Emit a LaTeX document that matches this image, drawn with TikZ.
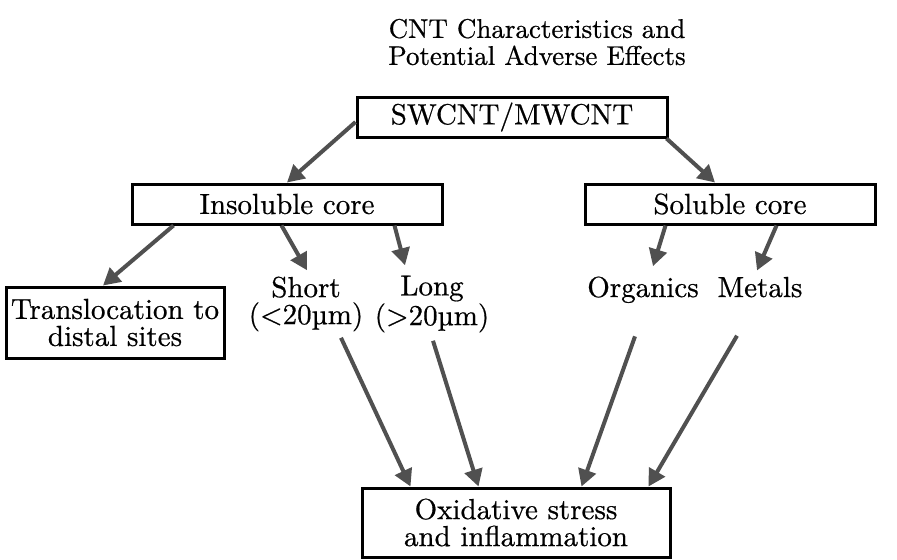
\documentclass[tikz,border=0pt]{standalone}
\usepackage{fontspec}
\setmainfont{lmroman10-regular.otf}[FakeBold=0.6]
\usetikzlibrary{arrows.meta,calc}
\definecolor{arrowgray}{HTML}{505050}
\tikzset{
  txt/.style={font=\fontsize{14.5pt}{13.5pt}\selectfont, align=center, inner sep=0pt},
  boxed/.style={txt, draw=black, line width=1.5pt},
  arr/.style={draw=arrowgray, line width=2pt,
    -{Triangle[length=8.5pt,width=9pt]}, arrowgray},
}
\begin{document}
\begin{tikzpicture}[x=0.5pt,y=-0.5pt]
\useasboundingbox (0,0) rectangle (897,559);

% title
\node[txt, font=\fontsize{13.5pt}{13.5pt}\selectfont] (title) at (537,42) {CNT Characteristics and\\Potential Adverse Effects};

% boxes
\node[boxed, minimum width=155pt, minimum height=20pt] (sw) at (512,117) {SWCNT/MWCNT};
\node[boxed, minimum width=155pt, minimum height=20pt] (ins) at (287,204) {Insoluble core};
\node[boxed, minimum width=145pt, minimum height=20pt] (sol) at (730,204) {Soluble core};
\node[boxed, minimum width=109pt, minimum height=35.5pt] (trans) at (115,322.5) {Translocation to\\distal sites};
\node[boxed, minimum width=154pt, minimum height=34.5pt] (ox) at (516,522.5) {Oxidative stress\\and inflammation};

% plain labels
\node[txt] (short) at (306,304) {Short\\(<20µm)};
\node[txt] (long) at (432,304) {Long\\(>20µm)};
\node[txt, anchor=base] (org) at (643,297) {Organics};
\node[txt, anchor=base] (met) at (760,297) {Metals};

% connectors
\draw[arr] ($(sw.west)+(0,5)$) -- (ins.north);
\draw[arr] ($(sw.south east)+(-2,0)$) -- ($(sol.north)+(-15,0)$);

\draw[arr] ($(ins.south west)+(43,0)$) -- ($(trans.north)+(-12,0)$);
\draw[arr] ($(ins.south west)+(151,0)$) -- ($(short.north)+(1,-6)$);
\draw[arr] ($(ins.south west)+(264,0)$) -- ($(long.north)+(-27,-10)$);

\draw[arr] ($(sol.south west)+(82,0)$) -- ($(org.north)+(10,-10)$);
\draw[arr] ($(sol.south west)+(193,0)$) -- ($(met.north)+(-3,-6)$);

\draw[arr] ($(short.south)+(35,6)$) -- ($(ox.north west)+(50,0)$);
\draw[arr] ($(long.south)+(1,8)$) -- ($(ox.north west)+(118,0)$);
\draw[arr] ($(org.south)+(-8,33)$) -- ($(ox.north west)+(221,0)$);
\draw[arr] ($(met.south)+(-23,38)$) -- ($(ox.north west)+(288,0)$);
\end{tikzpicture}
\end{document}
